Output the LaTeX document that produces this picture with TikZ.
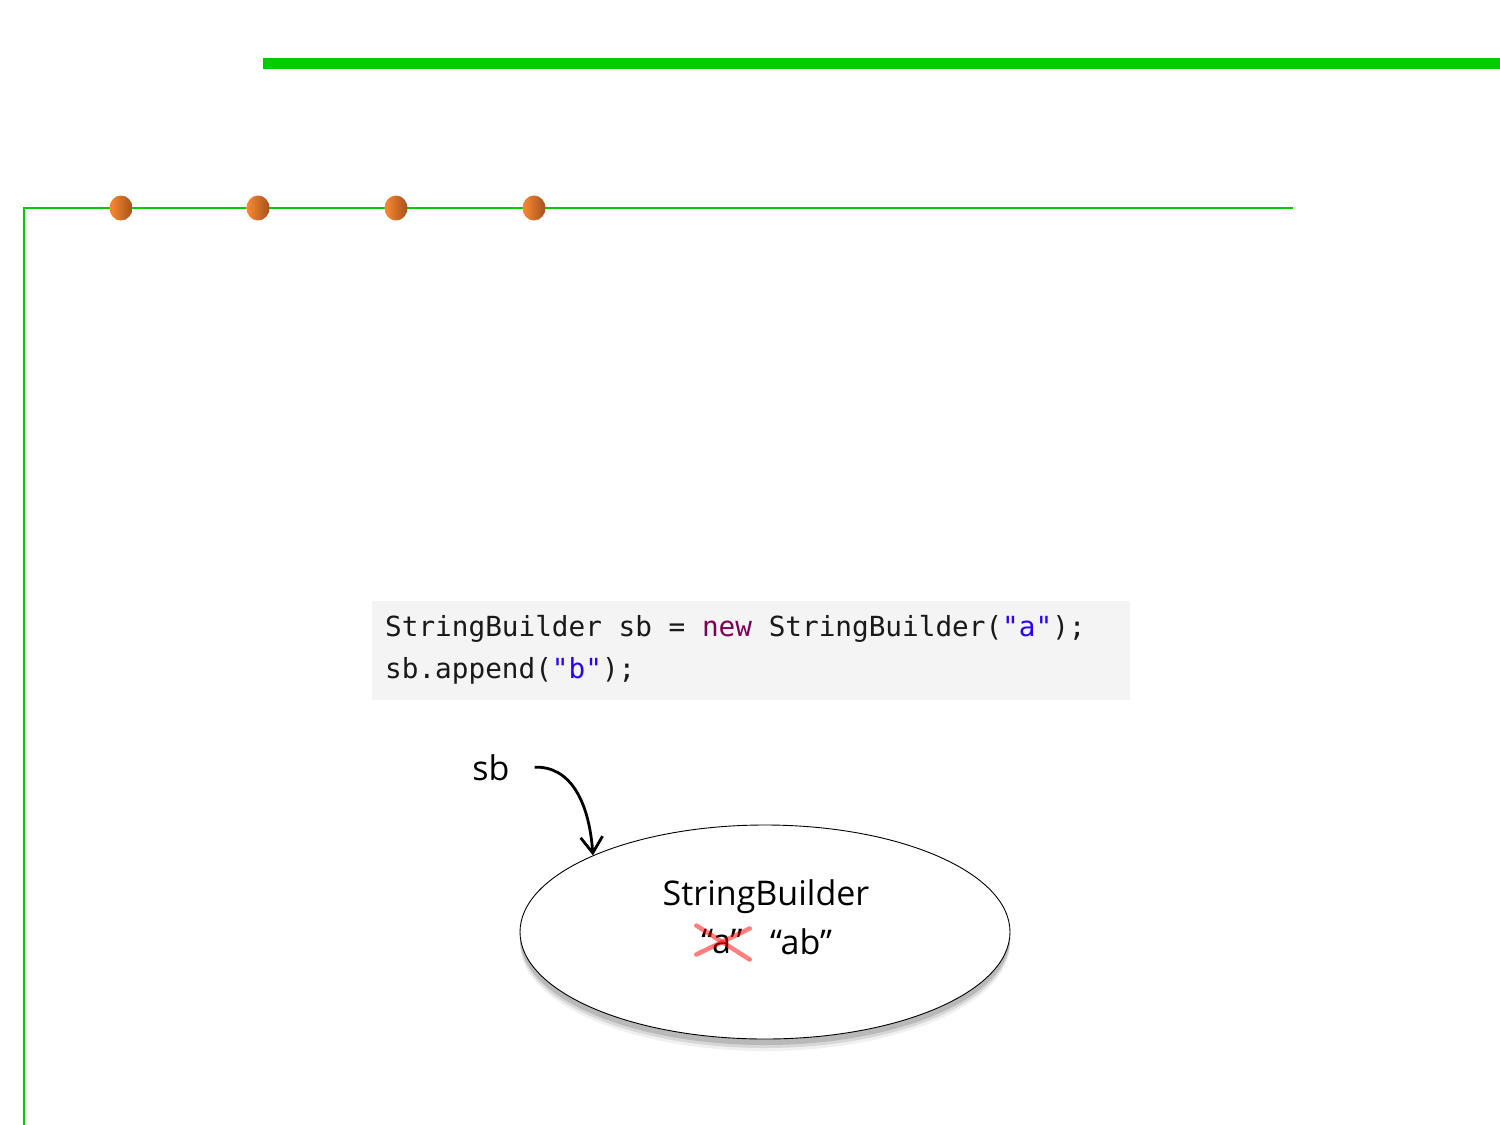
\documentclass[tikz,border=0pt]{standalone}
\usepackage{fontspec}
\setmainfont{Open Sans}
\setmonofont{DejaVu Sans Mono}
\usetikzlibrary{arrows.meta,positioning,shapes.geometric,shadows}
\definecolor{slidegreen}{HTML}{00CC00}
\definecolor{kwpurple}{HTML}{7F0055}
\definecolor{strblue}{HTML}{2A00FF}
\definecolor{codebg}{HTML}{F4F4F4}
\definecolor{dotlight}{HTML}{FA8A32}
\definecolor{dotdark}{HTML}{A5521C}
\newcommand{\codefont}{\fontsize{27.7}{42}\selectfont\ttfamily}
\newcommand{\labfont}{\fontsize{34}{40}\selectfont}

\begin{document}
\begin{tikzpicture}[x=1pt,y=-1pt,
		dot/.style={ellipse,draw=none,minimum width=23pt,minimum height=25pt,
			inner sep=0pt,left color=dotlight,right color=dotdark},
		codebox/.style={draw=none,fill=codebg,anchor=north west,
			minimum width=758pt,minimum height=99pt,inner sep=0pt},
		codeline/.style={anchor=base west,inner sep=0pt,text=black!90,font=\codefont},
		objshape/.style={ellipse,draw,line width=0.9pt,fill=white,
			minimum width=490pt,minimum height=214pt,
			drop shadow={shadow xshift=0pt,shadow yshift=-12pt,opacity=0.12},
			drop shadow={shadow xshift=0pt,shadow yshift=-9pt,opacity=0.22},
			drop shadow={shadow xshift=0pt,shadow yshift=-6pt,opacity=0.35}},
		lab/.style={inner sep=0pt,font=\labfont},
		refarrow/.style={line width=2.8pt,-{Straight Barb[length=16pt,width=22pt,line width=2.8pt]}},
		cross/.style={red,opacity=0.5,line width=4.5pt,line cap=round}
	]
	\useasboundingbox (0,0) rectangle (1500,1125);
	
	% Slide frame
	\fill[slidegreen] (263,58) rectangle (1500,69);
	\draw[slidegreen,line width=2pt] (1293,208) -- (24,208) -- (24,1125);
	\foreach \xpos/\name in {121/d1,258/d2,396/d3,534/d4}
		\node[dot] (\name) at (\xpos,208) {};
	
	% Code
	\node[codebox] (box) at (372,601) {};
	\node[codeline] (code1) at (385,636)
		{StringBuilder sb = {\color{kwpurple}new} StringBuilder({\color{strblue}"a"});};
	\node[codeline] (code2) at (385,678)
		{sb.append({\color{strblue}"b"});};
	
	% Object in memory
	\node[objshape] (obj) at (765,932) {};
	\node[lab] (cls) at (766,897) {StringBuilder};
	\node[lab] (olds) at (722,942) {“a”};
	\node[lab] (news) at (801,942) {“ab”};
	\draw[cross] ([shift={(-5,-4)}]olds.north west) -- ([shift={(7,5)}]olds.south east);
	\draw[cross] ([shift={(-5,0)}]olds.south west) -- ([shift={(7,-1)}]olds.north east);
	
	% Reference
	\node[lab] (sb) at (491,768) {sb};
	\draw[refarrow,shorten <=25pt] (sb.east) .. controls +(60,-2) and +(-4,-55) .. (obj.156);
\end{tikzpicture}
\end{document}
